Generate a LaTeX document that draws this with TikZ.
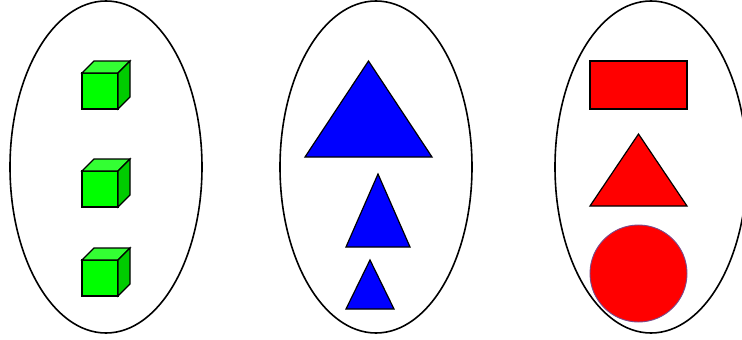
\documentclass[tikz,border=0pt]{standalone}
\usetikzlibrary{shapes.geometric}
\definecolor{cubefront}{HTML}{00FF00}
\definecolor{cubetop}{HTML}{33FF33}
\definecolor{cubeside}{HTML}{00CC00}
\definecolor{circedge}{HTML}{7A4A8A}
\tikzset{
  outline/.style={draw=black, line width=1.6pt},
  shapeedge/.style={draw=black, line width=1.2pt, line join=miter},
  bluefill/.style={shapeedge, fill=blue},
  redfill/.style={shapeedge, fill=red},
}
\newcommand{\greencube}[2]{%
  \filldraw[fill=cubefront,shapeedge] (#1,#2) rectangle ++(36,36);
  \filldraw[fill=cubetop,shapeedge] (#1,#2) -- ++(12,-12) -- ++(36,0) -- ++(-12,12) -- cycle;
  \filldraw[fill=cubeside,shapeedge] (#1+36,#2) -- ++(12,-12) -- ++(0,36) -- ++(-12,12) -- cycle;
}
\begin{document}
\begin{tikzpicture}[x=1pt,y=-1pt]
\useasboundingbox (0,0) rectangle (742,340);
% ellipses
\draw[outline] (106,167) ellipse [x radius=96, y radius=166];
\draw[outline] (376,167) ellipse [x radius=96, y radius=166];
\draw[outline] (651,167) ellipse [x radius=96, y radius=166];
% cubes
\greencube{82}{73}
\greencube{82}{171}
\greencube{82}{260}
% blue triangles
\filldraw[bluefill] (368.5,61) -- (432,157) -- (305,157) -- cycle;
\filldraw[bluefill] (378,174) -- (410,247) -- (346,247) -- cycle;
\filldraw[bluefill] (370,260) -- (394,309) -- (346,309) -- cycle;
% red shapes
\filldraw[redfill] (590,61) rectangle (687,109);
\filldraw[redfill] (638.5,134) -- (687,206) -- (590,206) -- cycle;
\filldraw[fill=red, draw=circedge, line width=0.9pt] (638.5,273.5) circle [radius=48.5];
\end{tikzpicture}
\end{document}
